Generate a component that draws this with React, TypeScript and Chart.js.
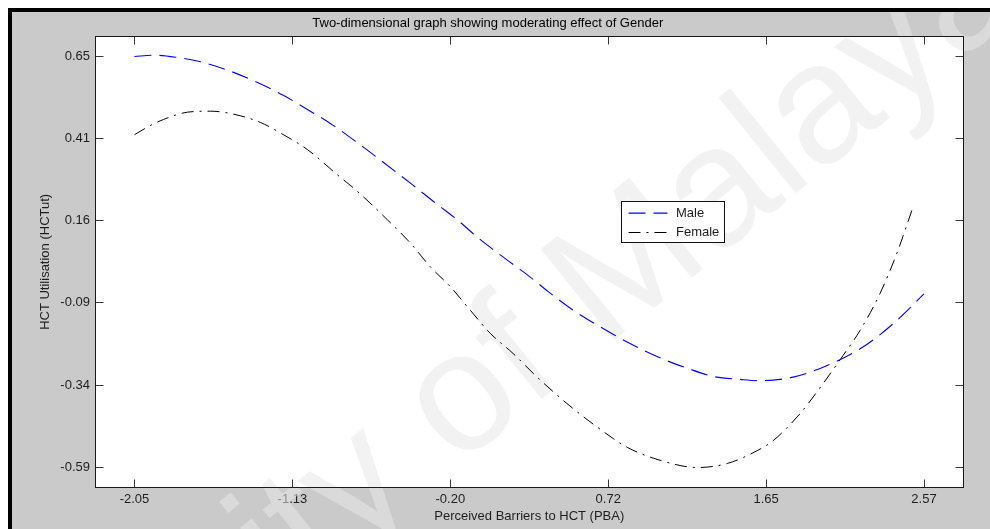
import React, { useEffect, useRef } from "react";
import { Chart, registerables } from "chart.js";

Chart.register(...registerables);

const chartTitle = "Two-dimensional graph showing moderating effect of Gender";
const xAxisTitle = "Perceived Barriers to HCT (PBA)";
const yAxisTitle = "HCT Utilisation (HCTut)";
const seriesLabels = ["Male", "Female"];
const seriesColors = ["#0000ff", "#000000"];
const seriesDashes = [
  [17, 8],
  [12, 6, 2, 6],
];
const watermarkText = "University of Malaya";

const maleX = [
  -2.05, -1.939, -1.81, -1.664, -1.506, -1.372, -1.179, -1.038, -0.904, -0.746,
  -0.6, -0.424, -0.29, -0.161, -0.038, 0.09, 0.266, 0.371, 0.517, 0.675, 0.833,
  1.044, 1.184, 1.336, 1.494, 1.611, 1.804, 1.962, 2.096, 2.237, 2.4, 2.57,
];
const maleY = [
  0.65, 0.654, 0.648, 0.634, 0.609, 0.581, 0.533, 0.49, 0.448, 0.39, 0.333,
  0.263, 0.208, 0.157, 0.102, 0.051, -0.016, -0.06, -0.116, -0.166, -0.212,
  -0.264, -0.291, -0.316, -0.325, -0.329, -0.318, -0.292, -0.261, -0.219,
  -0.152, -0.067,
];

const femaleX = [
  -2.05, -1.956, -1.88, -1.74, -1.606, -1.489, -1.313, -1.179, -1.038, -0.863,
  -0.746, -0.57, -0.436, -0.319, -0.202, -0.085, 0.032, 0.166, 0.306, 0.481,
  0.658, 0.833, 1.044, 1.243, 1.418, 1.594, 1.687, 1.845, 1.98, 2.096, 2.196,
  2.313, 2.412, 2.5,
];
const femaleY = [
  0.414, 0.442, 0.46, 0.482, 0.485, 0.478, 0.451, 0.414, 0.369, 0.293, 0.243,
  0.157, 0.087, 0.015, -0.045, -0.116, -0.186, -0.247, -0.318, -0.398, -0.469,
  -0.53, -0.572, -0.591, -0.579, -0.54, -0.51, -0.428, -0.337, -0.253, -0.177,
  -0.065, 0.057, 0.187,
];

const xTickValues = [-2.05, -1.126, -0.202, 0.722, 1.646, 2.57];
const xTickLabels = ["-2.05", "-1.13", "-0.20", "0.72", "1.65", "2.57"];
const yTickValues = [-0.59, -0.342, -0.094, 0.154, 0.402, 0.65];
const yTickLabels = ["-0.59", "-0.34", "-0.09", "0.16", "0.41", "0.65"];
const xRange = [-2.281, 2.801];
const yRange = [-0.652, 0.712];

const FONT = "'Liberation Sans', Arial, Helvetica, sans-serif";
const TEXT_COLOR = "#1e1e1e";

const px = (v: number) => Math.floor(v) + 0.5;

const matlabPlugin = {
  id: "matlabFrame",
  beforeDraw(chart: any) {
    const { ctx, chartArea: a } = chart;
    ctx.save();
    ctx.fillStyle = "#ffffff";
    ctx.fillRect(a.left, a.top, a.right - a.left, a.bottom - a.top);
    ctx.restore();
  },
  beforeDatasetsDraw(chart: any) {
    const { ctx } = chart;
    ctx.save();
    const size = 170;
    ctx.font = `${size}px ${FONT}`;
    const w1 = ctx.measureText("University of ").width;
    const wM = ctx.measureText("M").width;
    const theta = (-39 * Math.PI) / 180;
    ctx.translate(608, 245);
    ctx.rotate(theta);
    ctx.fillStyle = "rgba(232,232,232,0.55)";
    ctx.textBaseline = "alphabetic";
    ctx.fillText(watermarkText, -(w1 + wM / 2), 0.36 * size);
    ctx.restore();
  },
  afterDatasetsDraw(chart: any) {
    const { ctx, chartArea: a, scales } = chart;
    const L = px(a.left), R = px(a.right), T = px(a.top), B = px(a.bottom);
    ctx.save();
    ctx.lineWidth = 1;
    ctx.strokeStyle = "#3a3a3a";
    ctx.beginPath();
    const tl = 8;
    xTickValues.forEach((v) => {
      const x = px(scales.x.getPixelForValue(v));
      ctx.moveTo(x, B);
      ctx.lineTo(x, B - tl);
      ctx.moveTo(x, T);
      ctx.lineTo(x, T + tl);
    });
    yTickValues.forEach((v) => {
      const y = px(scales.y.getPixelForValue(v));
      ctx.moveTo(L, y);
      ctx.lineTo(L + tl, y);
      ctx.moveTo(R, y);
      ctx.lineTo(R - tl, y);
    });
    ctx.stroke();
    ctx.strokeStyle = "#1a1a1a";
    ctx.strokeRect(L, T, R - L, B - T);

    // legend
    const bx = 609.5, by = 189.5, bw = 103, bh = 41;
    ctx.fillStyle = "#ffffff";
    ctx.fillRect(bx, by, bw, bh);
    ctx.strokeStyle = "#111111";
    ctx.setLineDash([]);
    ctx.strokeRect(bx, by, bw, bh);
    ctx.font = `13px ${FONT}`;
    ctx.textBaseline = "middle";
    ctx.textAlign = "left";
    seriesLabels.forEach((label, i) => {
      const y = Math.round(by + 11.5 + i * 19) + 0.5;
      ctx.beginPath();
      ctx.strokeStyle = seriesColors[i];
      ctx.lineWidth = i === 0 ? 1.3 : 1;
      ctx.setLineDash(seriesDashes[i]);
      ctx.moveTo(bx + 7, i === 0 ? y - 0.3 : y);
      ctx.lineTo(bx + 46, i === 0 ? y - 0.3 : y);
      ctx.stroke();
      ctx.setLineDash([]);
      ctx.fillStyle = TEXT_COLOR;
      ctx.fillText(label, bx + 54.5, y);
    });
    ctx.restore();
  },
};

export default function App() {
  const canvasRef = useRef<HTMLCanvasElement | null>(null);

  useEffect(() => {
    const canvas = canvasRef.current;
    if (!canvas) return;
    const font = { family: FONT, size: 13 };
    const chart = new Chart(canvas, {
      type: "line",
      data: {
        datasets: [
          {
            label: seriesLabels[0],
            data: maleX.map((x, i) => ({ x, y: maleY[i] })),
            borderColor: seriesColors[0],
            borderWidth: 1.1,
            borderDash: seriesDashes[0],
            pointRadius: 0,
            cubicInterpolationMode: "monotone",
            fill: false,
          },
          {
            label: seriesLabels[1],
            data: femaleX.map((x, i) => ({ x, y: femaleY[i] })),
            borderColor: seriesColors[1],
            borderWidth: 1,
            borderDash: seriesDashes[1],
            pointRadius: 0,
            cubicInterpolationMode: "monotone",
            fill: false,
          },
        ],
      },
      options: {
        responsive: false,
        animation: false,
        devicePixelRatio: 1,
        layout: { padding: { left: 0, top: 0, right: 26.5, bottom: 0 } },
        plugins: {
          legend: { display: false },
          tooltip: { enabled: false },
          title: {
            display: true,
            text: chartTitle,
            color: "#000",
            font: { family: FONT, size: 13, weight: "normal" },
            padding: { top: 3.6, bottom: 4.8 },
          },
        },
        scales: {
          x: {
            type: "linear",
            min: xRange[0],
            max: xRange[1],
            afterBuildTicks: (s: any) => {
              s.ticks = xTickValues.map((v) => ({ value: v }));
            },
            afterFit: (s: any) => {
              s.height = 41.3;
            },
            ticks: {
              autoSkip: false,
              maxRotation: 0,
              padding: 3.8,
              color: TEXT_COLOR,
              font,
              callback: (_v: any, i: number) => xTickLabels[i] ?? "",
            },
            grid: { display: false, drawTicks: false },
            border: { display: false },
            title: {
              display: true,
              text: xAxisTitle,
              color: TEXT_COLOR,
              font,
              padding: { top: 0, bottom: 5.2 },
            },
          },
          y: {
            type: "linear",
            min: yRange[0],
            max: yRange[1],
            afterBuildTicks: (s: any) => {
              s.ticks = yTickValues.map((v) => ({ value: v }));
            },
            afterFit: (s: any) => {
              s.width = 83;
            },
            ticks: {
              autoSkip: false,
              padding: 5,
              color: TEXT_COLOR,
              font,
              callback: (_v: any, i: number) => yTickLabels[i] ?? "",
            },
            grid: { display: false, drawTicks: false },
            border: { display: false },
            title: {
              display: true,
              text: yAxisTitle,
              color: TEXT_COLOR,
              font,
              padding: { top: 25.5, bottom: 0 },
            },
          },
        },
      },
      plugins: [matlabPlugin],
    } as any);
    return () => chart.destroy();
  }, []);

  return (
    <div
      style={{
        position: "fixed",
        left: 8,
        top: 8,
        width: 982,
        height: 521,
        boxSizing: "border-box",
        background: "#cacaca",
        borderLeft: "4px solid #000",
        borderTop: "4px solid #000",
        overflow: "hidden",
      }}
    >
      <canvas ref={canvasRef} width={978} height={517} style={{ display: "block" }} />
    </div>
  );
}
